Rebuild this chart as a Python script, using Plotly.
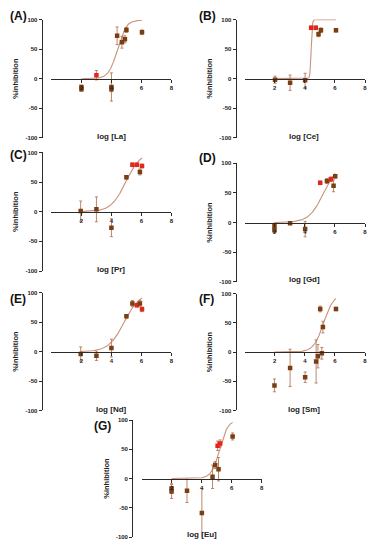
import numpy as np
import plotly.graph_objects as go

# ---------------- data ----------------
panel_letters = ["(A)", "(B)", "(C)", "(D)", "(E)", "(F)", "(G)"]
x_titles = ["log [La]", "log [Ce]", "log [Pr]", "log [Gd]", "log [Nd]", "log [Sm]", "log [Eu]"]

la_x = [2.0, 2.0, 3.0, 4.0, 4.0, 4.38, 4.7, 4.9, 5.0, 6.04]
la_y = [-14, -18, 6, -14, -18, 73, 62, 67, 83, 79]
la_err = [3, 3, 8, 24, 4, 15, 10, 6, 4, 4]
la_red = [0, 0, 1, 0, 0, 0, 0, 0, 0, 0]

ce_x = [2.02, 3.02, 4.02, 4.42, 4.73, 4.91, 5.07, 6.07]
ce_y = [-2, -7, -3, 86, 86, 75, 82, 82]
ce_err = [6, 13, 12, 3, 3, 4, 4, 3]
ce_red = [0, 0, 0, 1, 1, 0, 0, 0]

pr_x = [1.95, 3.0, 4.0, 5.0, 5.4, 5.7, 5.9, 6.04]
pr_y = [1, 4, -27, 58, 79, 79, 67, 77]
pr_err = [17, 21, 15, 3, 3, 3, 5, 3]
pr_red = [0, 0, 0, 0, 1, 1, 0, 1]

gd_x = [1.98, 1.98, 3.02, 4.02, 5.02, 5.47, 5.73, 5.91, 6.02]
gd_y = [-6, -13, -1, -11, 67, 70, 73, 62, 78]
gd_err = [5, 4, 2, 13, 3, 4, 4, 10, 3]
gd_red = [0, 0, 0, 0, 1, 0, 1, 0, 0]

nd_x = [1.95, 3.0, 4.0, 5.0, 5.4, 5.7, 5.9, 6.04]
nd_y = [-4, -7, 6, 60, 82, 79, 82, 72]
nd_err = [12, 8, 15, 3, 5, 3, 5, 4]
nd_red = [0, 0, 0, 0, 0, 1, 0, 1]

sm_x = [1.98, 3.02, 4.02, 4.75, 4.87, 5.02, 5.13, 5.2, 6.07]
sm_y = [-57, -27, -43, -16, -7, 74, -2, 43, 74]
sm_err = [11, 32, 9, 37, 20, 5, 10, 10, 3]
sm_red = [0, 0, 0, 0, 0, 0, 0, 0, 0]

eu_x = [2.0, 2.0, 3.03, 4.02, 4.73, 4.91, 5.07, 5.13, 5.24, 6.07]
eu_y = [-17, -22, -21, -59, 3, 23, 56, 16, 60, 72]
eu_err = [8, 12, 20, 42, 20, 6, 8, 20, 6, 6]
eu_red = [0, 0, 0, 0, 0, 0, 1, 0, 1, 0]

# fitted dose-response curve parameters
fit_ic50 = [4.4, 4.42, 4.95, 5.25, 4.85, 5.25, 5.2]
fit_hill = [1.5, 12.0, 0.9, 0.9, 0.85, 1.3, 1.6]
fit_top = [100, 100, 100, 100, 100, 100, 100]

y_ticks = [-100, -50, 0, 50, 100]
y_tick_labels = ["-100", "-50", "0", "50", "100"]
x_ticks = [2, 4, 6, 8]
x_tick_labels = ["2", "4", "6", "8"]

panels = [
    (la_x, la_y, la_err, la_red),
    (ce_x, ce_y, ce_err, ce_red),
    (pr_x, pr_y, pr_err, pr_red),
    (gd_x, gd_y, gd_err, gd_red),
    (nd_x, nd_y, nd_err, nd_red),
    (sm_x, sm_y, sm_err, sm_red),
    (eu_x, eu_y, eu_err, eu_red),
]

# ---------------- layout geometry (pixels in the 376x550 page) ----------------
OFF = 8  # browser default body margin
W, H = 376 - 2 * OFF, 550 - 2 * OFF
geo = [
    (51.7, 172.3, 17, 136, 42),
    (246, 367, 16.7, 136, 237),
    (51.7, 172.3, 151, 271, 42),
    (246, 367, 162, 282, 237),
    (51.7, 172.3, 293, 412, 42),
    (246, 367, 294, 412, 237),
    (142.3, 263, 421.7, 540, 133),
]
label_pos = [(8, 13), (198, 13), (8, 154), (198, 157), (8, 299), (198, 299), (92, 428)]
title_pos = [(111.7, 135), (306, 135), (111.7, 269), (306, 280), (111.7, 411), (306, 411), (202.7, 537)]


def px_x(v):
    return (v - OFF) / W


def px_y(v):
    return 1 - (v - OFF) / H


BROWN = "#7a3e12"
RED = "#e3261c"
ERR = "#b5785a"
CURVE = "#c9927a"
AX = "#2b2b2b"
FONT = "Liberation Sans"

fig = go.Figure()
annotations = []

for i, (px, py, pe, pr) in enumerate(panels):
    n = i + 1
    xa = "x" if n == 1 else f"x{n}"
    ya = "y" if n == 1 else f"y{n}"
    xc = np.linspace(min(px), max(px), 300)
    yc = fit_top[i] / (1 + 10 ** ((fit_ic50[i] - xc) * fit_hill[i]))
    fig.add_trace(go.Scatter(x=xc, y=yc, mode="lines", line=dict(color=CURVE, width=1.1),
                             xaxis=xa, yaxis=ya, showlegend=False, hoverinfo="skip"))
    colors = [RED if r else BROWN for r in pr]
    fig.add_trace(go.Scatter(
        x=px, y=py, mode="markers",
        marker=dict(symbol="square", size=4.5, color=colors, line=dict(width=0)),
        error_y=dict(type="data", array=pe, visible=True, color=ERR, thickness=0.9, width=1.5),
        xaxis=xa, yaxis=ya, showlegend=False))

    x0, x1, ytop, ybot, yax = geo[i]
    xdom = [px_x(x0), px_x(x1)]
    ydom = [px_y(ybot), px_y(ytop)]
    key = "" if n == 1 else str(n)
    fig.update_layout(**{
        f"xaxis{key}": dict(
            domain=xdom, range=[0, 8], anchor="free", position=(ydom[0] + ydom[1]) / 2,
            tickvals=x_ticks, ticktext=[f"<b>{t}</b>" for t in x_tick_labels],
            ticks="outside", ticklen=3, tickwidth=1, tickcolor=AX,
            showline=True, linecolor=AX, linewidth=1.3, showgrid=False, zeroline=False,
            tickfont=dict(family=FONT, size=6, color="#222"),
        ),
        f"yaxis{key}": dict(
            domain=ydom, range=[-100, 100], anchor="free", position=px_x(yax),
            tickvals=y_ticks, ticktext=[f"<b>{t}</b>" for t in y_tick_labels],
            ticks="outside", ticklen=3, tickwidth=1, tickcolor=AX,
            showline=True, linecolor=AX, linewidth=1.3, showgrid=False, zeroline=False,
            tickfont=dict(family=FONT, size=6, color="#222"),
            title=dict(text="<b>%inhibition</b>", font=dict(family=FONT, size=7.5, color="#222"),
                       standoff=4),
        ),
    })
    lx, ly = label_pos[i]
    annotations.append(dict(text=f"<b>{panel_letters[i]}</b>", x=px_x(lx), y=px_y(ly),
                            xref="paper", yref="paper", showarrow=False,
                            font=dict(family=FONT, size=12, color="#111"),
                            xanchor="left", yanchor="middle"))
    tx, ty = title_pos[i]
    annotations.append(dict(text=f"<b>{x_titles[i]}</b>", x=px_x(tx), y=px_y(ty),
                            xref="paper", yref="paper", showarrow=False,
                            font=dict(family=FONT, size=8, color="#222"),
                            xanchor="center", yanchor="middle"))

fig.update_layout(width=W, height=H, margin=dict(l=0, r=0, t=0, b=0),
                  paper_bgcolor="white", plot_bgcolor="white",
                  annotations=annotations, showlegend=False)

fig.write_html("out.html")
